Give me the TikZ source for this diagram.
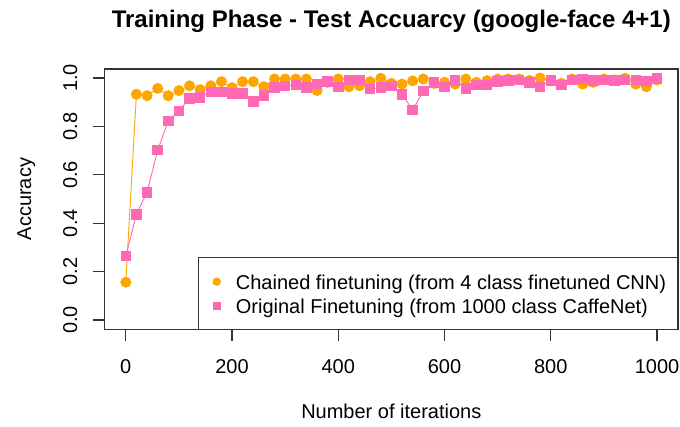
\documentclass[tikz,border=0pt]{standalone}
\usepackage{fontspec}
\setmainfont{Liberation Sans}
\usetikzlibrary{plotmarks}
\definecolor{chained}{HTML}{FFA500}
\definecolor{original}{HTML}{FF69B4}
\definecolor{framegray}{HTML}{333333}
\begin{document}
\begin{tikzpicture}[x=1pt, y=-1pt,
  font=\fontsize{20}{24}\selectfont,
  frame/.style={draw=framegray, line width=1.1pt},
  axistick/.style={draw=framegray, line width=1.1pt},
  lbl/.style={inner sep=0pt, anchor=base},
  seriesA/.style={draw=chained, line width=0.9pt, mark=*, mark size=5pt,
    mark options={draw=none, fill=chained}},
  seriesB/.style={draw=original, line width=0.9pt, mark=square*, mark size=4.75pt,
    mark options={draw=none, fill=original}}]
\useasboundingbox (0,0) rectangle (680,426);

% title
\node[lbl, font=\fontsize{24}{28}\selectfont\bfseries] (title) at (391.3,27)
  {Training Phase - Test Accuarcy (google-face 4+1)};

% data: iterations vs. accuracy
\begin{scope}[shift={(125.8pt,-320pt)}, x=0.5312pt, y=242pt]
  \draw[seriesA] plot coordinates {
    (0,0.156) (20,0.933) (40,0.927) (60,0.957) (80,0.927) (100,0.948)
    (120,0.968) (140,0.952) (160,0.968) (180,0.985) (200,0.960) (220,0.985)
    (240,0.985) (260,0.964) (280,0.996) (300,0.996) (320,0.996) (340,0.996)
    (360,0.948) (380,0.982) (400,0.996) (420,0.964) (440,0.968) (460,0.985)
    (480,0.999) (500,0.978) (520,0.975) (540,0.988) (560,0.996) (580,0.978)
    (600,0.982) (620,0.975) (640,0.996) (660,0.982) (680,0.989) (700,0.996)
    (720,0.996) (740,0.996) (760,0.990) (780,1.000) (800,0.988) (820,0.978)
    (840,0.996) (860,0.975) (880,0.982) (900,0.996) (920,0.992) (940,0.999)
    (960,0.975) (980,0.964) (1000,0.992)};
  \draw[seriesB] plot coordinates {
    (0,0.264) (20,0.437) (40,0.528) (60,0.702) (80,0.823) (100,0.864)
    (120,0.916) (140,0.920) (160,0.943) (180,0.943) (200,0.937) (220,0.937)
    (240,0.903) (260,0.927) (280,0.960) (300,0.968) (320,0.971) (340,0.960)
    (360,0.975) (380,0.985) (400,0.964) (420,0.992) (440,0.992) (460,0.955)
    (480,0.960) (500,0.968) (520,0.933) (540,0.868) (560,0.946) (580,0.982)
    (600,0.962) (620,0.989) (640,0.957) (660,0.971) (680,0.971) (700,0.985)
    (720,0.989) (740,0.992) (760,0.982) (780,0.964) (800,0.989) (820,0.971)
    (840,0.992) (860,0.996) (880,0.989) (900,0.992) (920,0.989) (940,0.992)
    (960,0.992) (980,0.988) (1000,0.999)};
\end{scope}

% plot frame
\draw[frame] (104.6,69) rectangle (678,329.3);

% x axis ticks and labels
\foreach \v [count=\i] in {0,200,400,600,800,1000} {
  \draw[axistick] ({125.8+0.5312*\v},329.3) -- ({125.8+0.5312*\v},341.3);
  \node[lbl] (xt\i) at ({125.8+0.5312*\v},373.3) {\v};
}
% y axis ticks and labels
\foreach \v [count=\i] in {0.0,0.2,0.4,0.6,0.8,1.0} {
  \draw[axistick] (104.6,{320-242*\v}) -- (92.6,{320-242*\v});
  \node[lbl, rotate=90] (yt\i) at (77,{320-242*\v}) {\v};
}

% axis titles
\node[lbl] (xtitle) at (391.3,418) {Number of iterations};
\node[lbl, rotate=90] (ytitle) at (31,199) {Accuracy};

% legend
\draw[frame] (198.3,257.3) rectangle (678,329.3);
\fill[chained] (216.7,281.7) circle[radius=4.2pt];
\fill[original] (212.5,301.8) rectangle (220.9,310.2);
\node[inner sep=0pt, anchor=base west] (legA) at (235.7,289.5)
  {Chained finetuning (from 4 class finetuned CNN)};
\node[inner sep=0pt, anchor=base west] (legB) at (235.7,313.5)
  {Original Finetuning (from 1000 class CaffeNet)};
\end{tikzpicture}
\end{document}
